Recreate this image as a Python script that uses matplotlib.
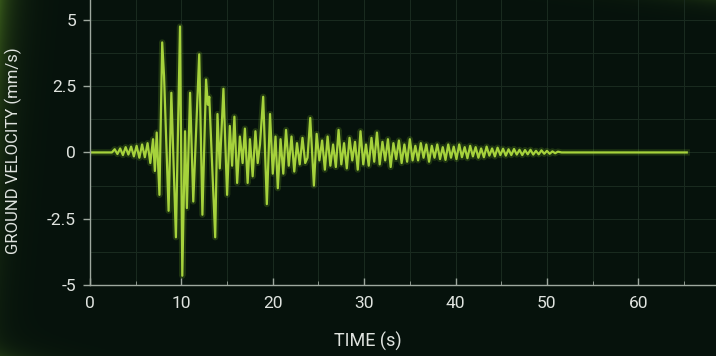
"""
Seismogram trace: ground velocity vs time, dark oscilloscope style.
"""
import numpy as np
import matplotlib
matplotlib.use("Agg")
import matplotlib.pyplot as plt
from matplotlib.ticker import MultipleLocator

# ── Data (peak / trough values) ──────────────────────────────────────────────
# quiet start and P-wave onset
onset_t = [0.0, 2.4, 2.7, 3.0, 3.3, 3.6, 3.9, 4.2, 4.5, 4.8, 5.1, 5.4, 5.7,
           6.0, 6.3, 6.6, 6.9, 7.1, 7.3, 7.6]
onset_v = [0.0, 0.0, 0.12, -0.06, 0.15, -0.1, 0.2, -0.08, 0.22, -0.15, 0.25,
           -0.2, 0.3, -0.18, 0.35, -0.4, 0.5, -0.7, 0.75, -1.6]

# strong shaking
main_t = [7.9, 8.1, 8.6, 8.9, 9.4, 9.85, 10.1, 10.4, 10.6, 10.95, 11.3,
          11.95, 12.3, 12.7, 12.9, 13.05, 13.7, 13.95, 14.2, 14.6, 15.0,
          15.3, 15.55, 15.8, 16.1, 16.4, 16.7, 16.95, 17.25, 17.5, 17.8,
          18.1, 18.35, 18.6, 18.95, 19.35, 19.7, 20.0, 20.3, 20.55, 20.85,
          21.15, 21.45, 21.75, 22.05, 22.35, 22.65, 22.95, 23.25, 23.55,
          23.8]
main_v = [4.15, 2.9, -2.2, 2.25, -3.2, 4.75, -4.65, 0.8, -2.1, 2.25, -1.85,
          3.7, -2.35, 2.75, 1.8, 2.1, -3.2, 1.45, -0.6, 2.4, -1.6, 1.0, -0.5,
          1.35, -1.15, 0.6, -0.4, 0.9, -1.15, 0.5, -0.9, 0.8, -0.4, 0.3, 2.1,
          -1.95, 1.45, -0.8, 0.6, -1.35, 0.5, -0.8, 0.85, -0.5, 0.6, -0.72,
          0.35, -0.45, 0.55, -0.4, -0.2]

# decaying coda and flat tail
coda_t = [24.1, 24.5, 24.8, 25.1, 25.4, 25.7, 26.0, 26.3, 26.6, 26.9, 27.2,
          27.5, 27.8, 28.1, 28.4, 28.7, 29.0, 29.3, 29.6, 29.9, 30.2, 30.5,
          30.8, 31.1, 31.4, 31.7, 32.0, 32.3, 32.6, 32.9, 33.2, 33.5, 33.8,
          34.1, 34.4, 34.7, 35.0, 35.3, 35.6, 35.9, 36.2, 36.5, 36.8, 37.1,
          37.4, 37.7, 38.0, 38.3, 38.6, 38.9, 39.2, 39.5, 39.8, 40.1, 40.4,
          40.7, 41.0, 41.3, 41.6, 41.9, 42.2, 42.5, 42.8, 43.1, 43.4, 43.7,
          44.0, 44.3, 44.6, 44.9, 45.2, 45.5, 45.8, 46.1, 46.4, 46.7, 47.0,
          47.3, 47.6, 47.9, 48.2, 48.5, 48.8, 49.1, 49.4, 49.7, 50.0, 50.3,
          50.6, 50.9, 51.2, 51.6, 65.3]
coda_v = [1.3, -1.25, 0.7, -0.3, 0.45, -0.65, 0.6, -0.5, 0.3, -0.55, 0.85,
          -0.45, 0.35, -0.6, 0.55, -0.3, 0.4, -0.65, 0.8, -0.45, 0.3, -0.5,
          0.55, -0.35, 0.75, -0.45, 0.4, -0.3, 0.5, -0.55, 0.35, -0.25, 0.45,
          -0.4, 0.3, -0.35, 0.5, -0.3, 0.25, -0.3, 0.35, -0.2, 0.3, -0.35,
          0.25, -0.2, 0.3, -0.25, 0.2, -0.28, 0.3, -0.2, 0.22, -0.25, 0.3,
          -0.18, 0.2, -0.22, 0.25, -0.15, 0.2, -0.2, 0.15, -0.18, 0.22,
          -0.12, 0.15, -0.15, 0.18, -0.1, 0.14, -0.12, 0.12, -0.1, 0.13,
          -0.08, 0.1, -0.1, 0.09, -0.07, 0.1, -0.08, 0.06, -0.07, 0.08,
          -0.05, 0.06, -0.05, 0.04, -0.03, 0.03, 0.0, 0.0]

time_s = onset_t + main_t + coda_t
velocity = onset_v + main_v + coda_v

y_ticks = [-5, -2.5, 0, 2.5, 5]
y_tick_labels = ["-5", "-2.5", "0", "2.5", "5"]
x_ticks = [0, 10, 20, 30, 40, 50, 60]

# ── Style ────────────────────────────────────────────────────────────────────
BG        = "#06120c"
GRID      = "#1a2b20"
AXIS_CLR  = "#9ea89f"
TEXT_CLR  = "#dfe3df"
TRACE     = "#a6d23c"
GLOW      = "#7fbf2a"
FONT      = ["Liberation Sans Narrow", "Roboto", "DejaVu Sans"]

plt.rcParams["font.family"] = FONT

fig = plt.figure(figsize=(7.16, 3.56), dpi=100)
fig.patch.set_facecolor(BG)

# background with a faint green glow on the left edge
bg_ax = fig.add_axes([0, 0, 1, 1])
h, w = 356, 716
xx = np.arange(w)[None, :]
yy = np.arange(h)[:, None]
glow = 0.7 * np.exp(-xx / 14.0) * np.exp(-yy / 160.0)
glow = glow + 0.3 * np.exp(-xx / 40.0) * np.exp(-(h - yy) / 10.0)
glow = glow + 0.25 * np.exp(-(w - xx) / 60.0) * np.exp(-yy / 8.0)
base = np.array([6, 18, 12]) / 255.0
tint = np.array([70, 110, 30]) / 255.0
img = base[None, None, :] + glow[:, :, None] * (tint - base)[None, None, :]
bg_ax.imshow(np.clip(img, 0, 1), aspect="auto", extent=[0, 1, 0, 1])
bg_ax.axis("off")

ax = fig.add_axes([90 / 716, 71 / 356, 626 / 716, 285 / 356])
ax.set_facecolor("none")

# glow under the trace, then the trace itself
ax.plot(time_s, velocity, color=GLOW, lw=4.5, alpha=0.2,
        solid_joinstyle="round")
ax.plot(time_s, velocity, color=TRACE, lw=1.6, solid_joinstyle="round")

ax.set_xlim(0, 68.5)
ax.set_ylim(-5, 5.75)

ax.set_xticks(x_ticks)
ax.xaxis.set_minor_locator(MultipleLocator(5))
ax.set_yticks(y_ticks)
ax.set_yticklabels(y_tick_labels)
ax.yaxis.set_minor_locator(MultipleLocator(1.25))

ax.grid(True, which="both", color=GRID, lw=0.7)
ax.set_axisbelow(True)

for side in ("top", "right"):
    ax.spines[side].set_visible(False)
for side in ("left", "bottom"):
    ax.spines[side].set_color(AXIS_CLR)
    ax.spines[side].set_linewidth(1.0)

ax.tick_params(axis="both", which="major", colors=AXIS_CLR, labelcolor=TEXT_CLR,
               labelsize=12.5, width=1.0)
ax.tick_params(axis="y", which="major", direction="out", length=5, pad=5)
ax.tick_params(axis="x", which="major", direction="in", length=5, pad=8)
ax.tick_params(axis="x", which="minor", direction="in", length=3,
               colors=AXIS_CLR)
ax.tick_params(axis="y", which="minor", length=0)

ax.set_xlabel("TIME (s)", color=TEXT_CLR, fontsize=13)
ax.xaxis.set_label_coords(0.444, -0.165)
ax.set_ylabel("GROUND VELOCITY (mm/s)", color=TEXT_CLR, fontsize=12)
ax.yaxis.set_label_coords(-0.108, 0.47)

fig.savefig("out.png", dpi=100, facecolor=fig.get_facecolor())
